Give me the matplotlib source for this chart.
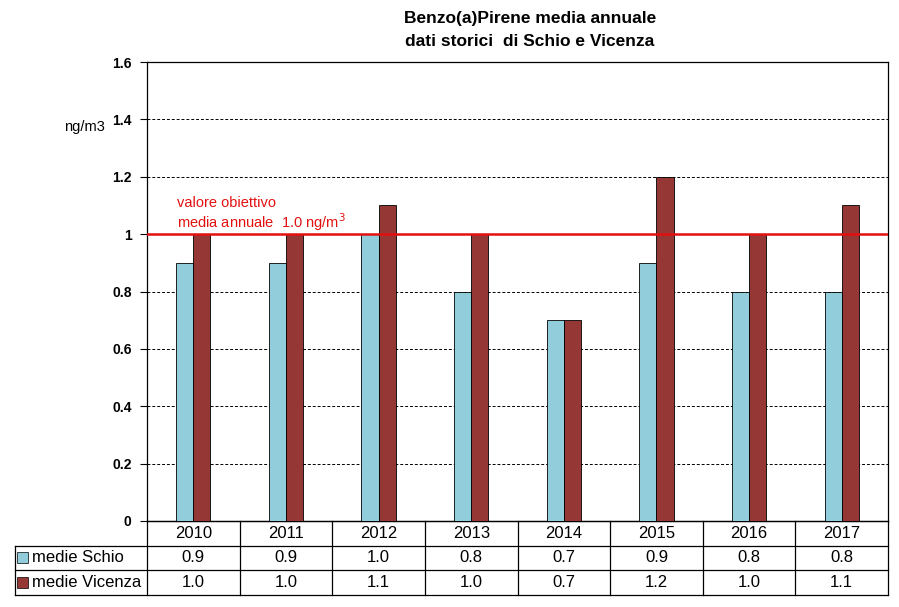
import numpy as np
import matplotlib.pyplot as plt
from matplotlib.patches import Rectangle

plt.rcParams['font.family'] = ['Liberation Sans', 'DejaVu Sans']

# dati
anni = ['2010', '2011', '2012', '2013', '2014', '2015', '2016', '2017']
schio = [0.9, 0.9, 1.0, 0.8, 0.7, 0.9, 0.8, 0.8]
vicenza = [1.0, 1.0, 1.1, 1.0, 0.7, 1.2, 1.0, 1.1]
serie = ['medie Schio', 'medie Vicenza']
colori = ['#92CDDC', '#953735']
valore_obiettivo = 1.0

fig = plt.figure(figsize=(8.99, 6.07), dpi=100)
ax = fig.add_axes([147/899, 1 - 521/607, 741/899, 459/607])

x = np.arange(len(anni))
w = 0.185
ax.bar(x - w/2, schio, w, color=colori[0], edgecolor='black', linewidth=0.6, zorder=3)
ax.bar(x + w/2, vicenza, w, color=colori[1], edgecolor='black', linewidth=0.6, zorder=3)

# linea valore obiettivo
ax.axhline(valore_obiettivo, color='#E3100F', linewidth=1.8, zorder=4)
ax.text(0.04, 1.004, 'valore obiettivo\nmedia annuale  1.0 ng/m$^3$',
        transform=ax.get_yaxis_transform(), color='#E3100F', fontsize=10.5,
        va='bottom', ha='left', linespacing=1.1)

ax.set_xlim(-0.5, len(anni) - 0.5)
ax.set_ylim(0, 1.6)
yt = np.arange(0, 1.61, 0.2)
ax.set_yticks(yt)
ax.set_yticklabels(['%g' % round(v, 1) for v in yt], fontweight='bold', fontsize=10)
ax.tick_params(axis='y', direction='out', length=5, width=0.8, pad=6)
ax.set_xticks([])
ax.yaxis.grid(True, linestyle=(0, (3, 2)), color='black', linewidth=0.7, zorder=0)
for s in ['left', 'top', 'right', 'bottom']:
    ax.spines[s].set_linewidth(0.9)

ax.text(-0.085, 0.858, 'ng/m3', transform=ax.transAxes, fontsize=10.5, ha='center', va='center')

fig.text(530/899, 1 - 19/607, 'Benzo(a)Pirene media annuale', ha='center', va='center',
         fontsize=12.5, fontweight='bold')
fig.text(530/899, 1 - 41/607, 'dati storici  di Schio e Vicenza', ha='center', va='center',
         fontsize=12.5, fontweight='bold')

# tabella dati sotto il grafico
px = 1 / 459  # un pixel in coordinate asse (y)
row_h = 24.5 * px
tr = ax.get_xaxis_transform()
xpx = len(anni) / 741  # un pixel in coordinate dati (x)
left_lab = (15 - 147) * xpx - 0.5
righe_y = [0, -row_h, -2 * row_h, -3 * row_h]
kw = dict(color='black', linewidth=0.9, clip_on=False, transform=tr)
ax.plot([-0.5, len(anni) - 0.5], [righe_y[0]] * 2, **kw)
for yy in righe_y[1:]:
    ax.plot([left_lab, len(anni) - 0.5], [yy, yy], **kw)
for b in np.arange(-0.5, len(anni), 1.0):
    ax.plot([b, b], [0, righe_y[-1]], **kw)
ax.plot([left_lab, left_lab], [righe_y[1], righe_y[-1]], **kw)

fs = 12
for i, a in enumerate(anni):
    ax.text(i, -row_h / 2, a, transform=tr, ha='center', va='center', fontsize=fs)
    ax.text(i, -1.5 * row_h, '%.1f' % schio[i], transform=tr, ha='center', va='center', fontsize=fs)
    ax.text(i, -2.5 * row_h, '%.1f' % vicenza[i], transform=tr, ha='center', va='center', fontsize=fs)

for k, (nome, c) in enumerate(zip(serie, colori)):
    yc = -(k + 1.5) * row_h
    ax.add_patch(Rectangle((left_lab + 2 * xpx, yc - 5.5 * px), 11 * xpx, 11 * px, transform=tr,
                           facecolor=c, edgecolor='black', linewidth=0.5, clip_on=False))
    ax.text(left_lab + 17 * xpx, yc, nome, transform=tr, ha='left', va='center', fontsize=fs)

fig.savefig('out.png', dpi=100)
